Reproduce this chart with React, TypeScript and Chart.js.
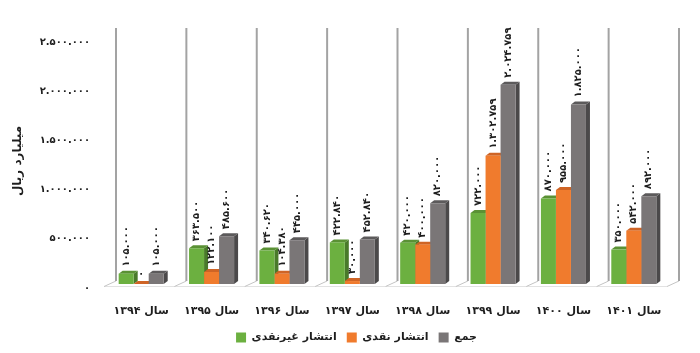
import React, { useEffect, useRef } from 'react';
import { Chart, registerables } from 'chart.js';

Chart.register(...registerables);

const categories = ['سال ۱۳۹۴', 'سال ۱۳۹۵', 'سال ۱۳۹۶', 'سال ۱۳۹۷', 'سال ۱۳۹۸', 'سال ۱۳۹۹', 'سال ۱۴۰۰', 'سال ۱۴۰۱'];
const seriesNames = ['انتشار غیرنقدی', 'انتشار نقدی', 'جمع'];
const nonCash = [105000, 363500, 340620, 422840, 420000, 722000, 870000, 350000];
const cash = [0, 122100, 104380, 30000, 400000, 1302759, 955000, 542000];
const total = [105000, 485600, 445000, 452840, 820000, 2024759, 1825000, 892000];
const yTicks = [0, 500000, 1000000, 1500000, 2000000, 2500000];
const yTitle = 'میلیارد ریال';

const FRONT = ['#6CB040', '#F07B2D', '#7A7677'];
const SIDE = ['#497A2A', '#B4571B', '#4B494A'];
const TOP = ['#5A9134', '#CF6425', '#5C5A5B'];
const FONT = "'DejaVu Sans', sans-serif";
const TEXT = '#1E1E1E';

const faDigits = '۰۱۲۳۴۵۶۷۸۹';
const fa = (n: number) =>
  Math.round(n)
    .toLocaleString('en-US')
    .replace(/,/g, '.')
    .replace(/\d/g, (d) => faDigits[+d]);

const DX = 4;
const DY = 3;

const plugin3d = {
  id: 'plugin3d',
  afterLayout(chart: any) {
    const lg = chart.legend;
    if (lg) {
      lg.left += 22;
      lg.right += 22;
    }
  },
  beforeDatasetsDraw(chart: any) {
    const { ctx, chartArea } = chart;
    const x = chart.scales.x;
    const n = categories.length;
    const step = (chartArea.right - chartArea.left) / n;
    ctx.save();
    ctx.strokeStyle = '#E2E2E2';
    ctx.lineWidth = 1;
    ctx.beginPath();
    ctx.moveTo(chartArea.left - 2, chartArea.bottom + 2.5);
    ctx.lineTo(chartArea.right - 2, chartArea.bottom + 2.5);
    ctx.stroke();
    for (let k = 0; k <= n; k++) {
      const bx = x.getPixelForValue(0) - step / 2 + k * step;
      ctx.strokeStyle = '#C4C4C4';
      ctx.lineWidth = 1;
      ctx.beginPath();
      ctx.moveTo(bx - 2, chartArea.bottom + 2.5);
      ctx.lineTo(bx + 10, chartArea.bottom - 3);
      ctx.stroke();
      ctx.strokeStyle = '#A3A3A3';
      ctx.lineWidth = 2;
      ctx.beginPath();
      ctx.moveTo(bx + 10, chartArea.bottom - 3);
      ctx.lineTo(bx + 10, chartArea.top - 10);
      ctx.stroke();
    }
    for (let i = 0; i < chart.data.datasets.length; i++) {
      const meta = chart.getDatasetMeta(i);
      meta.data.forEach((el: any) => {
        const p = el.getProps(['x', 'y', 'base', 'width'], true);
        const l = p.x - p.width / 2;
        const r = p.x + p.width / 2;
        ctx.fillStyle = SIDE[i];
        ctx.beginPath();
        ctx.moveTo(r, p.y);
        ctx.lineTo(r + DX, p.y - DY);
        ctx.lineTo(r + DX, p.base - DY);
        ctx.lineTo(r, p.base);
        ctx.closePath();
        ctx.fill();
        ctx.fillStyle = TOP[i];
        ctx.beginPath();
        ctx.moveTo(l, p.y);
        ctx.lineTo(l + DX, p.y - DY);
        ctx.lineTo(r + DX, p.y - DY);
        ctx.lineTo(r, p.y);
        ctx.closePath();
        ctx.fill();
      });
    }
    ctx.restore();
  },
  afterDatasetsDraw(chart: any) {
    const { ctx } = chart;
    ctx.save();
    ctx.fillStyle = TEXT;
    ctx.font = `bold 10px ${FONT}`;
    ctx.textAlign = 'left';
    ctx.textBaseline = 'middle';
    for (let i = 0; i < chart.data.datasets.length; i++) {
      const meta = chart.getDatasetMeta(i);
      const vals = chart.data.datasets[i].data as number[];
      meta.data.forEach((el: any, j: number) => {
        const p = el.getProps(['x', 'y'], true);
        ctx.save();
        ctx.translate(p.x, p.y - 7);
        ctx.rotate(-Math.PI / 2);
        ctx.fillText(fa(vals[j]), 0, 0);
        ctx.restore();
      });
    }
    ctx.restore();
  },
};

export default function App() {
  const ref = useRef<HTMLCanvasElement>(null);
  useEffect(() => {
    if (!ref.current) return;
    const chart = new Chart(ref.current, {
      type: 'bar',
      data: {
        labels: categories,
        datasets: [
          { label: seriesNames[0], data: nonCash, backgroundColor: FRONT[0] },
          { label: seriesNames[1], data: cash, backgroundColor: FRONT[1] },
          { label: seriesNames[2], data: total, backgroundColor: FRONT[2] },
        ],
      },
      options: {
        responsive: false,
        animation: false,
        datasets: { bar: { barPercentage: 1, categoryPercentage: 0.64 } },
        layout: { padding: { top: 38, right: 31, left: 0, bottom: 0 } },
        plugins: {
          legend: {
            position: 'bottom',
            labels: {
              boxWidth: 10,
              boxHeight: 10,
              padding: 10,
              color: TEXT,
              font: { family: FONT, size: 11, weight: 'bold' },
            },
          },
          tooltip: { enabled: false },
        },
        scales: {
          x: {
            grid: { display: false, drawTicks: false },
            border: { display: false },
            ticks: {
              padding: 21,
              color: TEXT,
              maxRotation: 0,
              autoSkip: false,
              font: { family: FONT, size: 11, weight: 'bold' },
            },
            afterFit: (s: any) => {
              s.height = 38;
            },
          },
          y: {
            min: 0,
            max: yTicks[yTicks.length - 1],
            grid: { display: false, drawTicks: false },
            border: { display: false },
            afterBuildTicks: (s: any) => {
              s.ticks = yTicks.map((v) => ({ value: v }));
            },
            ticks: {
              padding: 16,
              labelOffset: 4,
              color: TEXT,
              font: { family: FONT, size: 10, weight: 'bold' },
              callback: (v: any) => fa(Number(v)),
            },
            title: {
              display: true,
              text: yTitle,
              color: TEXT,
              font: { family: FONT, size: 12, weight: 'bold' },
              padding: { top: 11, bottom: 0 },
            },
            afterFit: (s: any) => {
              s.width = 106;
            },
          },
        },
      },
      plugins: [plugin3d],
    });
    return () => chart.destroy();
  }, []);
  return (
    <div style={{ position: 'fixed', left: 0, top: 0, width: 700, height: 353, background: '#fff' }}>
      <canvas ref={ref} width={700} height={353} style={{ display: 'block' }} />
    </div>
  );
}
